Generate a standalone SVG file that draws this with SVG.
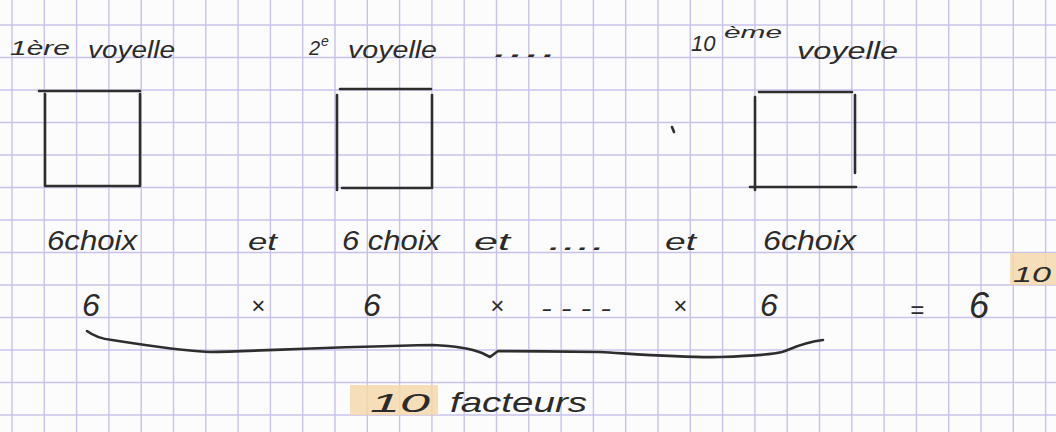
<svg xmlns="http://www.w3.org/2000/svg" width="1056" height="432" viewBox="0 0 1056 432">
<style>
.grid{stroke:#c8c2ea;stroke-width:1.4;fill:none}
.ink{stroke:#2e2e2e;stroke-width:2.6;fill:none;stroke-linecap:round;stroke-linejoin:round}
.t{font-family:"Liberation Sans",Arial,sans-serif;font-style:italic;fill:#2b2b2b}
.hl{fill:#f5d8ab;opacity:0.85}
</style>
<rect width="1056" height="432" fill="#fcfcfc"/>
<g id="grid">
<path class="grid" d="M12,0V432M44.3,0V432M76.6,0V432M108.9,0V432M141.2,0V432M173.5,0V432M205.8,0V432M238.1,0V432M270.4,0V432M302.7,0V432M335,0V432M367.3,0V432M399.6,0V432M431.9,0V432M464.2,0V432M496.5,0V432M528.8,0V432M561.1,0V432M593.4,0V432M625.7,0V432M658,0V432M690.3,0V432M722.6,0V432M754.9,0V432M787.2,0V432M819.5,0V432M851.8,0V432M884.1,0V432M916.4,0V432M948.7,0V432M981,0V432M1013.3,0V432M1045.6,0V432"/>
<path class="grid" d="M0,25H1056M0,57.5H1056M0,90H1056M0,122.5H1056M0,155H1056M0,187.5H1056M0,220H1056M0,252.5H1056M0,285H1056M0,317.5H1056M0,350H1056M0,382.5H1056M0,415H1056"/>
</g>
<g id="highlights">
<rect class="hl" x="1010" y="253" width="46" height="32"/>
<rect class="hl" x="350" y="385" width="88" height="30"/>
</g>
<g id="slot1">
<text class="t" x="10" y="55" font-size="20" textLength="60" lengthAdjust="spacingAndGlyphs">1ère</text>
<text class="t" x="88" y="58" font-size="24" textLength="87" lengthAdjust="spacingAndGlyphs">voyelle</text>
<path class="ink" d="M39,91H140M45,94V186M140,94V186M45,186H140"/>
</g>
<g id="slot2">
<text class="t" x="309" y="55" font-size="20">2</text>
<text class="t" x="321" y="46" font-size="14">e</text>
<text class="t" x="348" y="58" font-size="24" textLength="89" lengthAdjust="spacingAndGlyphs">voyelle</text>
<path class="ink" d="M340,89H431M337,95V190M432,95V188M342,188H430"/>
</g>
<g id="ellipsis-top">
<text class="t" x="493" y="57" font-size="22" textLength="65" lengthAdjust="spacingAndGlyphs">....</text>
<path class="ink" d="M672,127L674,132" stroke-width="1.5"/>
</g>
<g id="slot10">
<text class="t" x="691" y="51" font-size="22">10</text>
<text class="t" x="724" y="38" font-size="16" textLength="58" lengthAdjust="spacingAndGlyphs">ème</text>
<text class="t" x="797" y="59" font-size="24" textLength="101" lengthAdjust="spacingAndGlyphs">voyelle</text>
<path class="ink" d="M759,92H852M755,97V190M855,95V173M750,187H856"/>
</g>
<g id="choices">
<text class="t" x="47" y="250" font-size="28" textLength="90" lengthAdjust="spacingAndGlyphs">6choix</text>
<text class="t" x="248" y="250" font-size="24" textLength="29" lengthAdjust="spacingAndGlyphs">et</text>
<text class="t" x="342" y="250" font-size="28" textLength="98" lengthAdjust="spacingAndGlyphs">6 choix</text>
<text class="t" x="474" y="250" font-size="24" textLength="36" lengthAdjust="spacingAndGlyphs">et</text>
<text class="t" x="548" y="250" font-size="22" textLength="58" lengthAdjust="spacingAndGlyphs">....</text>
<text class="t" x="665" y="250" font-size="24" textLength="31" lengthAdjust="spacingAndGlyphs">et</text>
<text class="t" x="763" y="250" font-size="28" textLength="93" lengthAdjust="spacingAndGlyphs">6choix</text>
</g>
<g id="product">
<text class="t" x="82" y="316" font-size="32">6</text>
<text class="t" x="251" y="314" font-size="24">×</text>
<text class="t" x="363" y="316" font-size="32">6</text>
<text class="t" x="490" y="314" font-size="24">×</text>
<text class="t" x="541" y="316" font-size="22" textLength="70" lengthAdjust="spacingAndGlyphs">- - - -</text>
<text class="t" x="673" y="314" font-size="24">×</text>
<text class="t" x="760" y="316" font-size="32">6</text>
<text class="t" x="910" y="318" font-size="24">=</text>
<text class="t" x="969" y="318" font-size="36">6</text>
<text class="t" x="1013" y="282" font-size="22" textLength="38" lengthAdjust="spacingAndGlyphs">10</text>
</g>
<g id="connectors">
<path class="ink" stroke-width="2.4" d="M87,331C95,337 102,339 112,340C150,346 185,351 210,352C260,351 330,347 433,345C455,346 472,349 482,353L490,357L498,351C530,351 570,352 600,352C650,355 690,358 720,357C750,356 770,355 782,352C792,349 800,343 823,340"/>
</g>
<g id="brace-label">
<text class="t" x="370" y="412" font-size="26" textLength="60" lengthAdjust="spacingAndGlyphs">10</text>
<text class="t" x="450" y="412" font-size="28" textLength="137" lengthAdjust="spacingAndGlyphs">facteurs</text>
</g>
</svg>
